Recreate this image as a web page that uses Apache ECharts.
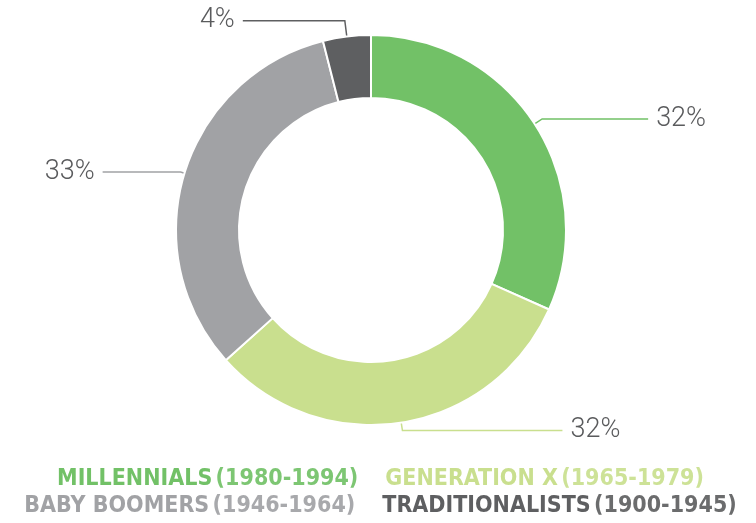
<!DOCTYPE html>
<html>
<head>
<meta charset="utf-8">
<script src="https://cdn.jsdelivr.net/npm/echarts@6/dist/echarts.min.js"></script>
<style>
  html, body { margin: 0; padding: 0; background: #fff; }
  #chart { width: 756px; height: 523px; }
</style>
</head>
<body>
<div id="chart"></div>
<script>
// generations, share of workforce (%)
const groups = ["MILLENNIALS", "GENERATION X", "BABY BOOMERS", "TRADITIONALISTS"]
const years = ["1980-1994", "1965-1979", "1946-1964", "1900-1945"]
const shares = [32, 32, 33, 4]
const colors = ["#72c167", "#c9df8e", "#a1a2a5", "#5e5f61"]

// leader line tweaks per slice (first leg, second leg)
const leg1 = [9, 8, 4, 16]
const leg2 = [106, 160, 78, 102]

const names = groups.map((g, i) => g + " (" + years[i] + ")")

const chart = echarts.init(document.getElementById("chart"))

function legendRow(idx, top) {
  return {
    top: top,
    left: "center",
    icon: "none",
    itemWidth: 0,
    itemHeight: 0,
    itemGap: 22,
    selectedMode: false,
    data: idx.map(i => ({ name: names[i], textStyle: { color: colors[i] } })),
    formatter: name => {
      const i = names.indexOf(name)
      return "{b|" + groups[i] + "} {n|(" + years[i] + ")}"
    },
    textStyle: {
      rich: {
        b: { fontFamily: "DejaVu Sans Condensed", fontWeight: "bold", fontSize: 23 },
        n: { fontFamily: "DejaVu Sans Condensed", fontWeight: "bold", fontSize: 23, opacity: 0.92 }
      }
    }
  }
}

const option = {
  animation: false,
  color: colors,
  legend: [legendRow([0, 1], 463), legendRow([2, 3], 490)],
  series: [
    {
      type: "pie",
      center: [371, 230],
      radius: [132, 195],
      startAngle: 90,
      avoidLabelOverlap: false,
      itemStyle: { borderColor: "#fff", borderWidth: 2 },
      label: {
        formatter: "{c}%",
        fontFamily: "Roboto",
        fontWeight: 300,
        fontSize: 27,
        color: "#5a5b5d",
        distanceToLabelLine: 8
      },
      labelLine: { lineStyle: { width: 1.5 } },
      emphasis: { disabled: true },
      data: shares.map((v, i) => ({
        name: names[i],
        value: v,
        labelLine: { length: leg1[i], length2: leg2[i] }
      }))
    }
  ]
}

chart.setOption(option)
</script>
</body>
</html>
